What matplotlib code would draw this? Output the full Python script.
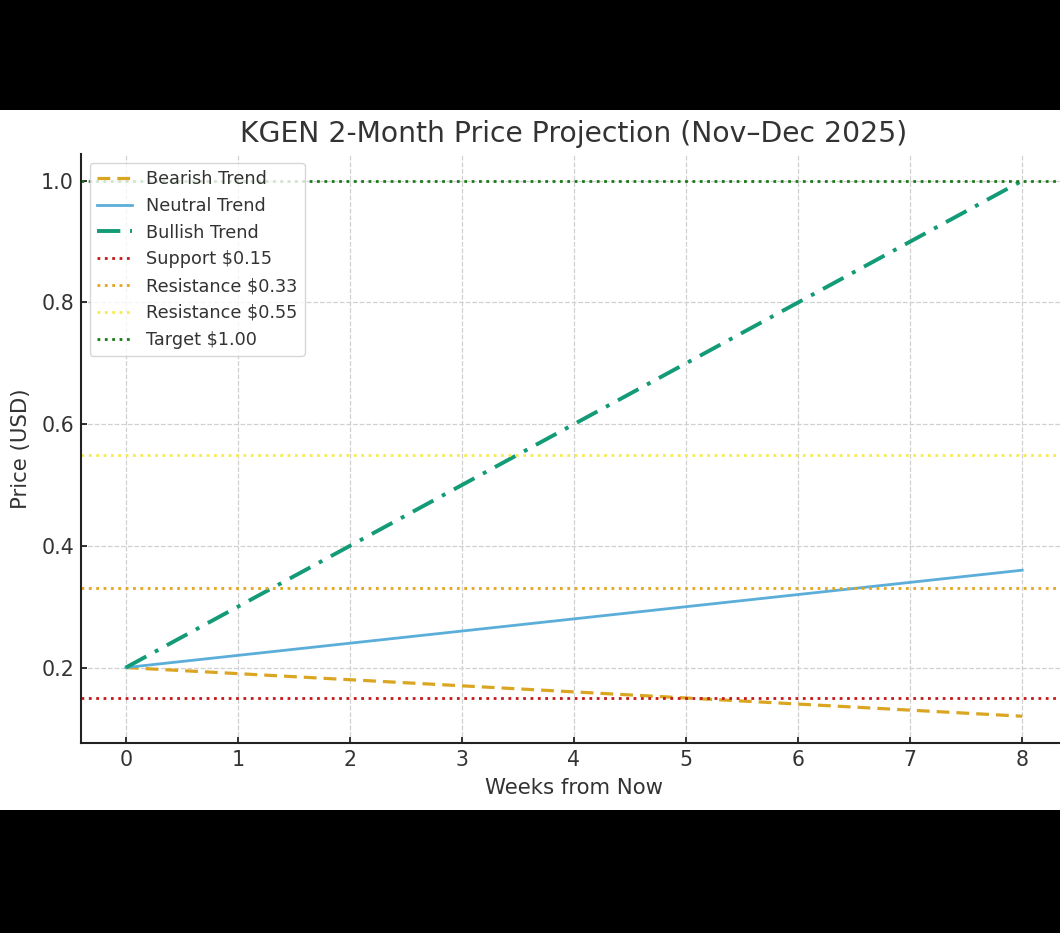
import matplotlib
matplotlib.use("Agg")
import matplotlib.pyplot as plt
from matplotlib.patches import Rectangle

weeks = [0, 1, 2, 3, 4, 5, 6, 7, 8]
bearish = [0.20, 0.19, 0.18, 0.17, 0.16, 0.15, 0.14, 0.13, 0.12]
neutral = [0.20, 0.22, 0.24, 0.26, 0.28, 0.30, 0.32, 0.34, 0.36]
bullish = [0.20, 0.30, 0.40, 0.50, 0.60, 0.70, 0.80, 0.90, 1.00]
levels = [0.15, 0.33, 0.55, 1.00]
level_labels = ["Support $0.15", "Resistance $0.33", "Resistance $0.55", "Target $1.00"]
level_colors = ["#c41a1a", "#e3a51c", "#f7ea4f", "#1a7a1a"]

TXT = "#333333"
plt.rcParams['font.family'] = ['DejaVu Sans']

fig = plt.figure(figsize=(10.6, 9.33), dpi=100)
fig.patch.set_facecolor("black")
fig.add_artist(Rectangle((0, 123/933), 1, 700/933, transform=fig.transFigure,
                         facecolor="white", edgecolor="none", zorder=0))

ax = fig.add_axes([81/1060, 190/933, 986/1060, 589/933])
ax.set_facecolor("white")

ax.plot(weeks, bearish, linestyle="--", color="#DAA520", lw=2.3, label="Bearish Trend", dashes=(4, 2.2))
ax.plot(weeks, neutral, linestyle="-", color="#5BAED9", lw=2.0, label="Neutral Trend")
ax.plot(weeks, bullish, linestyle="-.", color="#129B76", lw=2.8, label="Bullish Trend", dashes=(6, 2.5, 1, 2.5))
for y, lab, c in zip(levels, level_labels, level_colors):
    ax.axhline(y, linestyle=":", color=c, lw=2, label=lab)

ax.set_xlim(-0.4, 8.4)
ax.set_ylim(0.076, 1.044)
ax.set_xticks(weeks)
ax.set_yticks([0.2, 0.4, 0.6, 0.8, 1.0])
ax.grid(True, linestyle="--", color="#d0d0d0", lw=0.9)
ax.set_axisbelow(True)
for s in ["top", "right"]:
    ax.spines[s].set_visible(False)
for s in ["left", "bottom"]:
    ax.spines[s].set_color("#222222")
    ax.spines[s].set_linewidth(1.5)
ax.tick_params(labelsize=14.8, colors="#222222", length=4.5, width=1.3,
               direction="in", pad=5)
ax.tick_params(labelcolor=TXT)

ax.set_xlabel("Weeks from Now", fontsize=15.3, color=TXT, labelpad=6)
ax.set_ylabel("Price (USD)", fontsize=15.3, color=TXT, labelpad=7)
ax.set_title("KGEN 2-Month Price Projection (Nov\u2013Dec 2025)", fontsize=20.3, color=TXT, pad=9)

leg = ax.legend(loc="upper left", fontsize=12.7, frameon=True, framealpha=0.8,
                edgecolor="#cccccc", borderpad=0.4, labelspacing=0.5,
                handlelength=2.0, bbox_to_anchor=(0.0, 1.0))
for t in leg.get_texts():
    t.set_color(TXT)

fig.savefig("out.png", dpi=100, facecolor=fig.get_facecolor())
